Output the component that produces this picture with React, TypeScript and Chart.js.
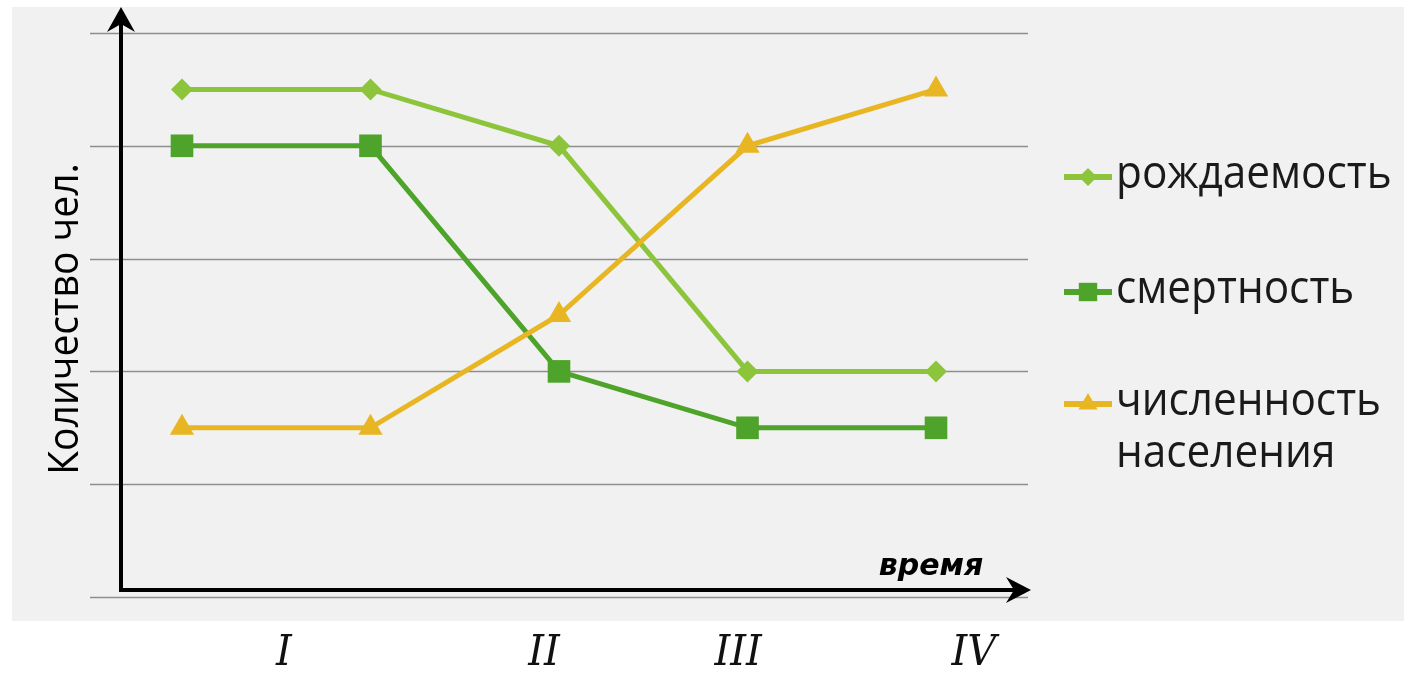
import React, { useEffect, useRef } from "react";
import { Chart, registerables } from "chart.js";

Chart.register(...registerables);

const timePoints = [0, 1, 2, 3, 4];
const birthRate = [4.5, 4.5, 4, 2, 2];
const deathRate = [4, 4, 2, 1.5, 1.5];
const population = [1.5, 1.5, 2.5, 4, 4.5];
const seriesNames = ["рождаемость", "смертность", "численность населения"];
const yGridValues = [0, 1, 2, 3, 4, 5];
const stageLabels = ["I", "II", "III", "IV"];
const stageAt = [0.54, 1.92, 2.95, 4.2];
const yTitle = "Количество чел.";
const xTitle = "время";

const COLORS = ["#8cc43c", "#4ea42a", "#e7b622"];
const STYLES = ["rectRot", "rect", "triangle"];
const RADII = [11, 16, 14];

function drawText(ctx, text, x, y, font, sx, align = "left", base = "middle") {
  ctx.save();
  ctx.translate(x, y);
  ctx.scale(sx, 1);
  ctx.font = font;
  ctx.textAlign = align;
  ctx.textBaseline = base;
  ctx.fillText(text, 0, 0);
  ctx.restore();
}

function drawMarker(ctx, style, r, cx, cy) {
  ctx.beginPath();
  if (style === "rectRot") {
    ctx.moveTo(cx, cy - r);
    ctx.lineTo(cx + r, cy);
    ctx.lineTo(cx, cy + r);
    ctx.lineTo(cx - r, cy);
  } else if (style === "rect") {
    const s = r * Math.SQRT1_2;
    ctx.rect(cx - s, cy - s, 2 * s, 2 * s);
  } else {
    ctx.moveTo(cx, cy - r);
    ctx.lineTo(cx + r * 0.87, cy + r * 0.5);
    ctx.lineTo(cx - r * 0.87, cy + r * 0.5);
  }
  ctx.closePath();
  ctx.fill();
}

const decorPlugin = {
  id: "decor",
  beforeDraw(chart) {
    const ctx = chart.ctx;
    ctx.save();
    ctx.fillStyle = "#ffffff";
    ctx.fillRect(0, 0, chart.width, chart.height);
    ctx.fillStyle = "#f1f1f1";
    ctx.fillRect(12, 7, chart.width - 12, 614);
    const { left, right } = chart.chartArea;
    const y = chart.scales.y;
    ctx.strokeStyle = "#8e8e8e";
    ctx.lineWidth = 1.5;
    for (const v of yGridValues) {
      const py = Math.round(y.getPixelForValue(v)) + 0.5;
      ctx.beginPath();
      ctx.moveTo(left, py);
      ctx.lineTo(right, py);
      ctx.stroke();
    }
    ctx.strokeStyle = "#000";
    ctx.fillStyle = "#000";
    ctx.lineWidth = 4;
    const ax = 121;
    const ay = 590;
    ctx.beginPath();
    ctx.moveTo(ax, ay + 2);
    ctx.lineTo(ax, 20);
    ctx.stroke();
    ctx.beginPath();
    ctx.moveTo(ax - 2, ay);
    ctx.lineTo(1018, ay);
    ctx.stroke();
    ctx.beginPath();
    ctx.moveTo(ax, 7);
    ctx.lineTo(ax + 14, 32);
    ctx.lineTo(ax, 24);
    ctx.lineTo(ax - 14, 32);
    ctx.closePath();
    ctx.fill();
    ctx.beginPath();
    ctx.moveTo(1031, ay);
    ctx.lineTo(1006, ay - 13);
    ctx.lineTo(1014, ay);
    ctx.lineTo(1006, ay + 13);
    ctx.closePath();
    ctx.fill();
    ctx.restore();
  },
  afterDraw(chart) {
    const ctx = chart.ctx;
    const x = chart.scales.x;
    ctx.save();
    ctx.fillStyle = "#000";
    ctx.save();
    ctx.translate(66, 319);
    ctx.rotate(-Math.PI / 2);
    drawText(ctx, yTitle, 0, 0, "42px 'Open Sans'", 0.93, "center", "middle");
    ctx.restore();
    drawText(ctx, xTitle, 931, 567, "italic bold 30px 'DejaVu Sans'", 1.0, "center", "middle");
    ctx.fillStyle = "#111";
    stageLabels.forEach((s, i) => {
      drawText(ctx, s, x.getPixelForValue(stageAt[i]), 654, "italic 42px 'DejaVu Serif'", 0.95, "center", "middle");
    });
    const rows = [177, 292, 404];
    seriesNames.forEach((name, i) => {
      const ly = rows[i];
      ctx.strokeStyle = COLORS[i];
      ctx.fillStyle = COLORS[i];
      ctx.lineWidth = 6;
      ctx.beginPath();
      ctx.moveTo(1064, ly);
      ctx.lineTo(1112, ly);
      ctx.stroke();
      const r = i === 0 ? 9 : i === 1 ? 13 : 11;
      drawMarker(ctx, STYLES[i], r, 1088, ly);
      ctx.fillStyle = "#1a1a1a";
      const font = "46px 'Open Sans'";
      if (i === 2) {
        const parts = name.split(" ");
        drawText(ctx, parts[0], 1116, ly - 2, font, 0.92, "left", "middle");
        drawText(ctx, parts[1], 1116, ly + 50, font, 0.92, "left", "middle");
      } else {
        drawText(ctx, name, 1116, ly - 2, font, 0.92, "left", "middle");
      }
    });
    ctx.restore();
  },
};

export default function App() {
  const ref = useRef(null);
  useEffect(() => {
    document.body.style.margin = "0";
    const all = [birthRate, deathRate, population];
    const chart = new Chart(ref.current, {
      type: "line",
      data: {
        datasets: all.map((vals, i) => ({
          label: seriesNames[i],
          data: vals.map((v, k) => ({ x: timePoints[k], y: v })),
          borderColor: COLORS[i],
          backgroundColor: COLORS[i],
          borderWidth: 5,
          pointStyle: STYLES[i],
          pointRadius: RADII[i],
          pointBorderWidth: 0,
          pointBackgroundColor: COLORS[i],
          tension: 0,
          clip: false,
          order: 2 - i,
        })),
      },
      options: {
        responsive: false,
        animation: false,
        devicePixelRatio: 1,
        layout: { padding: { left: 90, right: 376, top: 33, bottom: 76 } },
        plugins: { legend: { display: false }, tooltip: { enabled: false } },
        scales: {
          x: { type: "linear", min: -0.488, max: 4.488, display: false },
          y: { type: "linear", min: 0, max: 5, display: false },
        },
      },
      plugins: [decorPlugin],
    });
    return () => chart.destroy();
  }, []);
  return <canvas ref={ref} width={1404} height={673} style={{ display: "block" }} />;
}
